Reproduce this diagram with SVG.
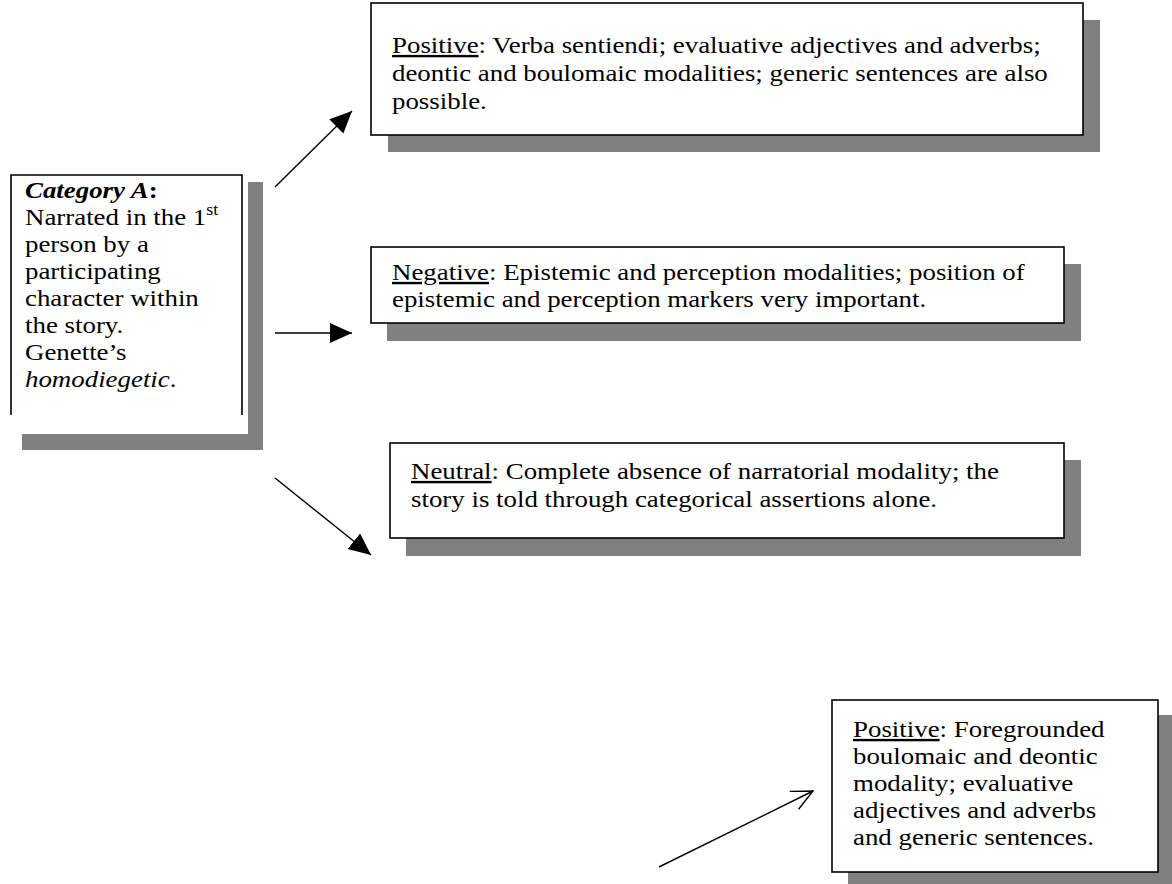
<svg xmlns="http://www.w3.org/2000/svg" width="1172" height="884" viewBox="0 0 1172 884">
<style>
.sh{fill:#808080}
.bx{fill:#fff;stroke:#000;stroke-width:1.6}
.t{font-family:"Liberation Serif","Times New Roman",serif;font-size:24px;fill:#000}
.u{text-decoration:underline}
.ln{stroke:#000;stroke-width:1.4;fill:none}
</style>
<defs>
<marker id="fa" markerUnits="userSpaceOnUse" markerWidth="26" markerHeight="22" refX="22" refY="10" orient="auto">
<path d="M0,0 L22,10 L0,20 Z" fill="#000"/>
</marker>
<marker id="oa" markerUnits="userSpaceOnUse" markerWidth="26" markerHeight="26" refX="22" refY="11" orient="auto">
<path d="M1,1 L22,11 L1,21" fill="none" stroke="#000" stroke-width="1.4"/>
</marker>
</defs>
<rect width="1172" height="884" fill="#fff"/>

<g id="categoryA">
<rect class="sh" x="22" y="182" width="241" height="268"/>
<rect x="11" y="175" width="237" height="259" fill="#fff"/>
<path class="ln" d="M11,415 V175 H242 V415" style="stroke-width:1.6"/>
<g class="t" transform="translate(25 0) scale(1.12 1)">
<text y="198"><tspan font-weight="bold" font-style="italic">Category A</tspan><tspan font-weight="bold">:</tspan></text>
<text y="225">Narrated in the 1<tspan font-size="16" dy="-10">st</tspan></text>
<text y="252">person by a</text>
<text y="279">participating</text>
<text y="306">character within</text>
<text y="333">the story.</text>
<text y="360">Genette’s</text>
<text y="387"><tspan font-style="italic">homodiegetic</tspan>.</text>
</g>
</g>

<g id="positive1">
<rect class="sh" x="388" y="20" width="712" height="132"/>
<rect class="bx" x="371" y="3" width="712" height="132"/>
<g class="t" transform="translate(392 0) scale(1.12 1)">
<text y="53"><tspan class="u">Positive</tspan>: Verba sentiendi; evaluative adjectives and adverbs;</text>
<text y="81">deontic and boulomaic modalities; generic sentences are also</text>
<text y="109">possible.</text>
</g>
</g>

<g id="negative">
<rect class="sh" x="387" y="264" width="694" height="77"/>
<rect class="bx" x="371" y="247" width="693" height="76"/>
<g class="t" transform="translate(392 0) scale(1.12 1)">
<text y="280"><tspan class="u">Negative</tspan>: Epistemic and perception modalities; position of</text>
<text y="307">epistemic and perception markers very important.</text>
</g>
</g>

<g id="neutral">
<rect class="sh" x="406" y="460" width="675" height="96"/>
<rect class="bx" x="390" y="443" width="674" height="95"/>
<g class="t" transform="translate(411 0) scale(1.12 1)">
<text y="479"><tspan class="u">Neutral</tspan>: Complete absence of narratorial modality; the</text>
<text y="507">story is told through categorical assertions alone.</text>
</g>
</g>

<g id="positive2">
<rect class="sh" x="848" y="715" width="330" height="180"/>
<rect class="bx" x="832" y="700" width="326" height="172"/>
<g class="t" transform="translate(853 0) scale(1.12 1)">
<text y="737"><tspan class="u">Positive</tspan>: Foregrounded</text>
<text y="764">boulomaic and deontic</text>
<text y="791">modality; evaluative</text>
<text y="818">adjectives and adverbs</text>
<text y="845">and generic sentences.</text>
</g>
</g>

<g id="connectors">
<line class="ln" x1="275" y1="187" x2="352" y2="111" marker-end="url(#fa)"/>
<line class="ln" x1="275" y1="333" x2="352" y2="333" marker-end="url(#fa)"/>
<line class="ln" x1="275" y1="478" x2="371" y2="555" marker-end="url(#fa)"/>
<line class="ln" x1="659" y1="867" x2="813" y2="791" marker-end="url(#oa)"/>
</g>
</svg>
